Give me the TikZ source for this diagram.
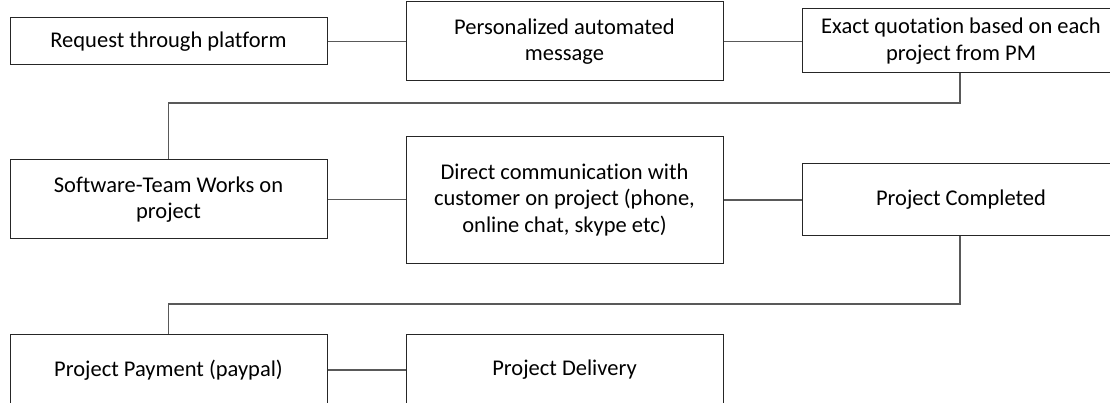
\documentclass[tikz,border=0pt]{standalone}
\usepackage{fontspec}
\setmainfont{Carlito}[Ligatures={NoCommon}]
\begin{document}
\begin{tikzpicture}[x=1pt,y=-1pt,
  stagebox/.style={draw=black!85, line width=1pt, fill=white, inner sep=0pt,
    align=center, font=\fontsize{22.5}{26.5}\selectfont, anchor=center},
  link/.style={draw=black!65, line width=1.2pt}]
\useasboundingbox (0,0) rectangle (1110,403);
\clip (0,0) rectangle (1110,403);

% bend points of the two return connectors
\coordinate (j1) at (960,103);
\coordinate (j2) at (960,304);

% row 1
\node[stagebox, minimum width=317pt, minimum height=47pt] (req) at (168.5,41.5) {Request through platform};
\node[stagebox, minimum width=317pt, minimum height=79pt] (msg) at (564.5,41.5) {Personalized automated\\message};
\node[stagebox, minimum width=318pt, minimum height=64pt] (quote) at (961,41) {Exact quotation based on each\\project from PM};

% row 2
\node[stagebox, minimum width=317pt, minimum height=79pt] (team) at (168.5,199.5) {Software-Team Works on\\project};
\node[stagebox, minimum width=317pt, minimum height=126pt] (comm) at (564.5,200) {Direct communication with\\customer on project (phone,\\online chat, skype etc)};
\node[stagebox, minimum width=318pt, minimum height=72pt] (done) at (961,200) {Project Completed};

% row 3
\node[stagebox, minimum width=317pt, minimum height=72pt] (pay) at (168.5,370) {Project Payment (paypal)};
\node[stagebox, minimum width=317pt, minimum height=72pt] (deliv) at (564.5,370) {Project Delivery};

% connectors
\draw[link] (req.east) -- (msg.west);
\draw[link] (msg.east) -- (msg.east -| quote.west);
\draw[link] (quote.south -| j1) -- (j1) -| (team.north);
\draw[link] (team.east) -- (team.east -| comm.west);
\draw[link] (comm.east) -- (comm.east -| done.west);
\draw[link] (done.south -| j2) -- (j2) -| (pay.north);
\draw[link] (pay.east) -- (deliv.west);
\end{tikzpicture}
\end{document}
